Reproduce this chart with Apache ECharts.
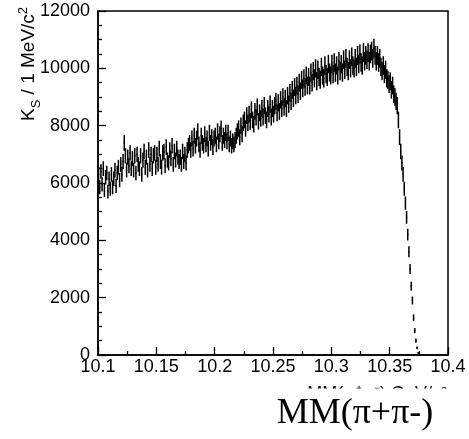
<!DOCTYPE html>
<html>
<head>
<meta charset="utf-8">
<script src="https://cdn.jsdelivr.net/npm/echarts@6/dist/echarts.min.js"></script>
<style>
html,body{margin:0;padding:0;background:#fff;}
#chart{width:469px;height:439px;}
</style>
</head>
<body>
<div id="chart"></div>
<script>
// Histogram: 1 MeV/c^2 bins from 10.100 to 10.400 (300 bins), counts
const binStart = 10.1;
const binWidth = 0.001;
const counts = [
  6300, 5850, 6400, 5950, 6500, 5750, 6200, 6350, 5700, 6150,
  5800, 6300, 5850, 6150, 6450, 5900, 6350, 6550, 6100, 6650,
  6300, 6750, 7400, 6950, 6450, 6900, 6600, 7050, 6500, 6850,
  6450, 6950, 6350, 7000, 6650, 6500, 6950, 6300, 6800, 7100,
  6550, 6900, 6450, 7150, 6650, 7000, 6500, 6950, 7050, 6550,
  7000, 6650, 7200, 6750, 6550, 7050, 7100, 6600, 7250, 6800,
  6700, 7150, 6850, 7300, 6650, 7100, 6800, 7200, 6900, 6750,
  6900, 6650, 7100, 6750, 7000, 6700, 7150, 7300, 7400, 7150,
  7550, 7200, 7650, 7300, 7550, 7800, 7350, 7150, 7650, 7400,
  7300, 7700, 7350, 7550, 7200, 7750, 7400, 7600, 7250, 7550,
  7650, 7350, 7800, 7450, 7700, 7900, 7400, 7650, 7500, 7750,
  7450, 7750, 7350, 7550, 7300, 7450, 7350, 7500, 7650, 7800,
  7900, 7600, 8000, 7700, 8100, 8200, 7900, 8350, 8100, 8400,
  8150, 8550, 8200, 8050, 8500, 8300, 8650, 8150, 8450, 8250,
  8600, 8300, 8700, 8350, 8200, 8600, 8400, 8750, 8300, 8600,
  8400, 8700, 8850, 8450, 8800, 8500, 8900, 8600, 9000, 8650,
  8950, 8600, 9050, 8750, 9150, 8850, 9250, 8950, 9350, 9050,
  9400, 9100, 9500, 9200, 9600, 9300, 9650, 9350, 9750, 9400,
  9700, 9400, 9850, 9500, 9900, 9650, 10000, 9550, 9950, 9700,
  9600, 10050, 9750, 9650, 10100, 9800, 9700, 10150, 9850, 9750,
  10150, 9800, 10200, 9850, 10100, 9750, 10250, 9900, 10150, 9850,
  10300, 9950, 10350, 10050, 9900, 10300, 10000, 10400, 10100, 10000,
  10350, 10050, 10450, 10150, 10500, 10200, 10100, 10550, 10250, 10450,
  10300, 10550, 10250, 10500, 10600, 10350, 10700, 10450, 10250, 10450,
  10200, 10350, 10050, 9900, 10100, 9800, 9950, 9650, 9600, 9450,
  9550, 9250, 9400, 9100, 9000, 8850, 8700, 8200, 7600, 7100,
  6700, 6300, 5800, 5300, 4800, 4200, 3600, 3000, 2400, 1900,
  1300, 850, 500, 250, 80, 0, 0, 0, 0, 0,
  0, 0, 0, 0, 0, 0, 0, 0, 0, 0,
  0, 0, 0, 0, 0, 0, 0, 0, 0, 0
];
const xTicks = ['10.1', '10.15', '10.2', '10.25', '10.3', '10.35', '10.4'];
const yTicks = ['0', '2000', '4000', '6000', '8000', '10000', '12000'];

// statistical error bars (scaled sqrt of the yield)
const errScale = 3.2;
const histData = counts.map((v, i) => [binStart + (i + 0.5) * binWidth, v, v > 0 ? errScale * Math.sqrt(v) : 0]);

const chart = echarts.init(document.getElementById('chart'));

const tickFont = '"Liberation Sans", Arial, Helvetica, sans-serif';

// y-axis title pieces (rotated), positioned by measured widths
const mc = document.createElement('canvas').getContext('2d');
function w(t, fs) { mc.font = fs + 'px ' + tickFont; return mc.measureText(t).width; }
const tfs = 19, sfs = 13;
const parts = [
  { t: 'K', fs: tfs, dy: 0 },
  { t: 'S', fs: sfs, dy: 5 },
  { t: ' / 1 MeV/c', fs: tfs, dy: 0 },
  { t: '2', fs: sfs, dy: -8 }
];
let off = 0;
const titleChildren = parts.map(p => {
  const el = {
    type: 'text', x: off, y: p.dy,
    style: { text: p.t, font: p.fs + 'px ' + tickFont, fill: '#000', textAlign: 'left', textVerticalAlign: 'bottom' }
  };
  off += w(p.t, p.fs);
  return el;
});

const option = {
  animation: false,
  backgroundColor: '#fff',
  grid: { left: 98, right: 21, top: 11, bottom: 84, show: true, borderColor: '#000', borderWidth: 1.5, containLabel: false, outerBoundsMode: 'none' },
  xAxis: {
    type: 'value', min: 10.1, max: 10.4, interval: 0.05,
    axisLine: { show: true, lineStyle: { color: '#000', width: 1.5 } },
    axisTick: { show: true, inside: true, length: 8, lineStyle: { color: '#000', width: 1.3 } },
    minorTick: { show: true, splitNumber: 2, length: 4, lineStyle: { color: '#000', width: 1.3 } },
    splitLine: { show: false },
    axisLabel: {
      color: '#000', fontSize: 18, fontFamily: tickFont, margin: 3,
      showMinLabel: true, showMaxLabel: true,
      formatter: v => { const k = Math.round((v - 10.1) / 0.05); return xTicks[k] !== undefined ? xTicks[k] : ''; }
    }
  },
  yAxis: {
    type: 'value', min: 0, max: 12000, interval: 2000,
    axisLine: { show: true, lineStyle: { color: '#000', width: 1.5 } },
    axisTick: { show: true, inside: true, length: 8, lineStyle: { color: '#000', width: 1.3 } },
    minorTick: { show: true, splitNumber: 4, length: 4, lineStyle: { color: '#000', width: 1.3 } },
    splitLine: { show: false },
    axisLabel: {
      color: '#000', fontSize: 18, fontFamily: tickFont, margin: 8,
      formatter: v => { const k = Math.round(v / 2000); return yTicks[k] !== undefined ? yTicks[k] : ''; }
    }
  },
  series: [{
    type: 'custom',
    clip: true,
    data: histData,
    encode: { x: 0, y: 1 },
    renderItem: function (params, api) {
      const c = api.value(0), v = api.value(1), e = api.value(2);
      if (!(v > 0)) return null;
      const lo = api.coord([c, v - e]);
      const hi = api.coord([c, v + e]);
      const l = api.coord([c - binWidth / 2, v]);
      const r = api.coord([c + binWidth / 2, v]);
      const st = { stroke: '#000', lineWidth: 1.5 };
      return {
        type: 'group',
        children: [
          { type: 'line', shape: { x1: lo[0], y1: lo[1], x2: hi[0], y2: hi[1] }, style: st },
          { type: 'line', shape: { x1: l[0], y1: l[1], x2: r[0], y2: r[1] }, style: st }
        ]
      };
    }
  }],
  graphic: [
    { type: 'group', x: 38, y: 121, rotation: Math.PI / 2, children: titleChildren },
    {
      type: 'text', x: 447, y: 385, z: 10,
      style: { text: 'MM(π⁺π⁻) GeV/c²', font: '18px ' + tickFont, fill: '#000', textAlign: 'right', textVerticalAlign: 'top' }
    },
    { type: 'rect', z: 11, shape: { x: 290, y: 388.5, width: 179, height: 51 }, style: { fill: '#fff' } },
    {
      type: 'text', x: 355, y: 432, z: 12,
      style: { text: 'MM(π+π-)', font: '36px "Liberation Serif", "Times New Roman", serif', fill: '#000', textAlign: 'center', textVerticalAlign: 'bottom' }
    }
  ]
};
chart.setOption(option);
</script>
</body>
</html>
